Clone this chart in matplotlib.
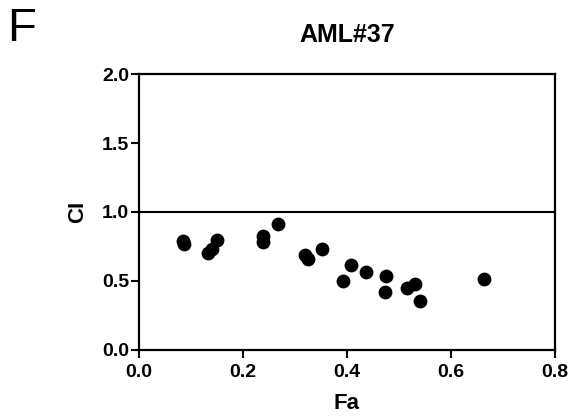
import matplotlib
matplotlib.use("Agg")
import matplotlib.pyplot as plt

plt.rcParams['font.family'] = ['Liberation Sans', 'DejaVu Sans']

fa = [0.085, 0.087, 0.133, 0.140, 0.151, 0.239, 0.239, 0.267, 0.319, 0.326,
      0.352, 0.408, 0.393, 0.437, 0.476, 0.474, 0.515, 0.531, 0.540, 0.663]
ci = [0.792, 0.768, 0.701, 0.730, 0.797, 0.826, 0.785, 0.911, 0.688, 0.657,
      0.730, 0.616, 0.502, 0.567, 0.536, 0.420, 0.447, 0.476, 0.357, 0.512]
xticks = [0.0, 0.2, 0.4, 0.6, 0.8]
yticks = [0.0, 0.5, 1.0, 1.5, 2.0]

fig = plt.figure(figsize=(5.72, 4.16), dpi=100)
ax = fig.add_axes([0.243, 0.159, 0.727, 0.663])

ax.scatter(fa, ci, s=80, color='black', zorder=3, clip_on=False)
ax.axhline(1.0, color='black', lw=1.5)

ax.set_xlim(0, 0.8)
ax.set_ylim(0, 2.0)
ax.set_xticks(xticks)
ax.set_yticks(yticks)
ax.set_xticklabels(['%.1f' % v for v in xticks], fontweight='bold', fontsize=14)
ax.set_yticklabels(['%.1f' % v for v in yticks], fontweight='bold', fontsize=14)
ax.tick_params(axis='x', direction='out', length=6, width=1.5, pad=4)
ax.tick_params(axis='y', direction='out', length=6, width=1.5, pad=1)
for sp in ax.spines.values():
    sp.set_linewidth(1.6)

ax.set_xlabel('Fa', fontweight='bold', fontsize=16, labelpad=9)
ax.set_ylabel('CI', fontweight='bold', fontsize=16, labelpad=10)
ax.set_title('AML#37', fontweight='bold', fontsize=18, pad=23)

fig.text(0.012, 0.982, 'F', fontsize=34, va='top', ha='left')

fig.savefig('out.png', dpi=100)
